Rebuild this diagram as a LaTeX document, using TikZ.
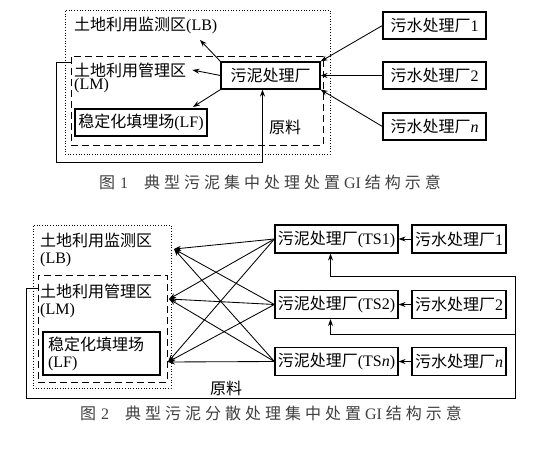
\documentclass[tikz,border=0pt]{standalone}
\usepackage{fontspec}
\setmainfont{Liberation Serif}
\newfontfamily\zhfont{Noto Sans CJK SC}
\newfontfamily\zhcap{Noto Sans CJK SC}[LetterSpace=25]
\newcommand{\zh}[1]{{\zhfont #1}}
\usetikzlibrary{arrows.meta,calc}

\begin{document}
\begin{tikzpicture}[x=1pt,y=-1pt,
 box/.style={draw,line width=1.15pt,minimum height=27pt,inner sep=2pt,
 font=\fontsize{16}{17}\selectfont},
 zone/.style={draw,inner sep=0pt},
 lbl/.style={inner sep=0pt,anchor=west,align=left,font=\fontsize{16}{17}\selectfont},
 figcap/.style={inner sep=0pt,text=black!75,font=\fontsize{16}{17}\selectfont},
 arrow/.style={-{Stealth[length=7pt,width=5pt]},line width=.85pt}
]
\useasboundingbox (0,0) rectangle (540,449);
\fill[white] (0,0) rectangle (540,449);

% Fig. 1
\node[zone,dotted,line width=.7pt,minimum width=265pt,minimum height=144pt] (lbzA) at (197.5,82) {};
\node[zone,line width=.9pt,dash pattern=on 7pt off 4pt,minimum width=252pt,minimum height=89pt] (lmzA) at (197,100.5) {};
\node[lbl] (lbA) at (74,25) {\zh{土地利用监测区}(LB)};
\node[lbl] (lmA1) at (74,70) {\zh{土地利用管理区}};
\node[lbl] (lmA2) at (74,86) {(LM)};
\node[box,minimum width=132pt] (lfA) at (141,122.5) {\zh{稳定化填埋场}(LF)};
\node[box,minimum width=99pt] (sp) at (270.5,75.5) {\zh{污泥处理厂}};
\node[lbl,anchor=center] (rawA) at (285,127) {\zh{原料}};
\foreach \k/\y/\t in {1/25.5/1,2/75.5/2,n/126.5/\textit{n}}
 \node[box,minimum width=103pt] (wA\k) at (434.5,\y) {\zh{污水处理厂}\t};

\draw[arrow] (wA1.west) -- (sp.north east);
\draw[arrow] (wA2.west) -- (sp.east);
\draw[arrow] (wAn.west) -- (sp.south east);
\coordinate (lbTipA) at (200,40);
\coordinate (lfTipA) at (193,107);
\draw[arrow] (sp.north west) -- (lbTipA);
\draw[arrow] (sp.west) -- ([xshift=6pt]lmA1.east);
\draw[arrow] (sp.south west) -- (lfTipA);
\coordinate (loopA) at (56,162);
\draw[arrow] ([yshift=-7pt]lmzA.north west) -| (loopA) -| ([xshift=-8pt]sp.south);

\node[figcap] (capA) at (270,182) {{\zhcap 图}\hspace{5pt}1\hspace{16pt}{\zhcap 典型污泥集中处理处置} GI {\zhcap 结构示意}};

% Fig. 2
\node[zone,dotted,line width=.7pt,minimum width=138pt,minimum height=163pt] (lbzB) at (102,306.5) {};
\node[zone,line width=.9pt,dash pattern=on 7pt off 4pt,minimum width=129pt,minimum height=107pt] (lmzB) at (102.5,328.5) {};
\node[lbl] (lbB) at (40,250) {\zh{土地利用监测区}\\(LB)};
\node[lbl] (lmB) at (40,301) {\zh{土地利用管理区}\\(LM)};
\node[box,align=left,text width=107pt,inner xsep=5pt,minimum height=43pt] (lfB) at (101.5,353.5)
 {\zh{稳定化填埋场}\\(LF)};
\foreach \k/\y/\t in {1/239/1,2/304.5/2,n/361.5/\textit{n}}{
 \node[box,minimum width=123pt,minimum height=28pt] (ts\k) at (336.5,\y) {\zh{污泥处理厂}(TS\t)};
 \node[box,minimum width=94pt,minimum height=28pt] (wB\k) at (459,\y) {\zh{污水处理厂}\t};
}
\node[lbl,anchor=center] (rawB) at (226,388) {\zh{原料}};

\coordinate (lbTipB) at (174,249);
\coordinate (lmTipB) at (169,299);
\coordinate (lfTipB) at (168,362);
\foreach \s in {1,2,n}{
 \draw[arrow] (wB\s.west) -- (ts\s.east);
 \foreach \t in {lbTipB,lmTipB,lfTipB}
 \draw[arrow] (ts\s.west) -- (\t);
}
\coordinate (cornB) at (26,398);
\coordinate (railB) at (515,276);
\coordinate (railB2) at (515,334);
\draw[arrow] ([yshift=-14pt]lmzB.north west) -| (cornB) -| (railB) -| ([xshift=-6pt]ts1.south);
\draw[arrow] (railB2) -| ([xshift=-6pt]ts2.south);

\node[figcap] (capB) at (271,413) {{\zhcap 图}\hspace{5pt}2\hspace{16pt}{\zhcap 典型污泥分散处理集中处置} GI {\zhcap 结构示意}};
\end{tikzpicture}
\end{document}
